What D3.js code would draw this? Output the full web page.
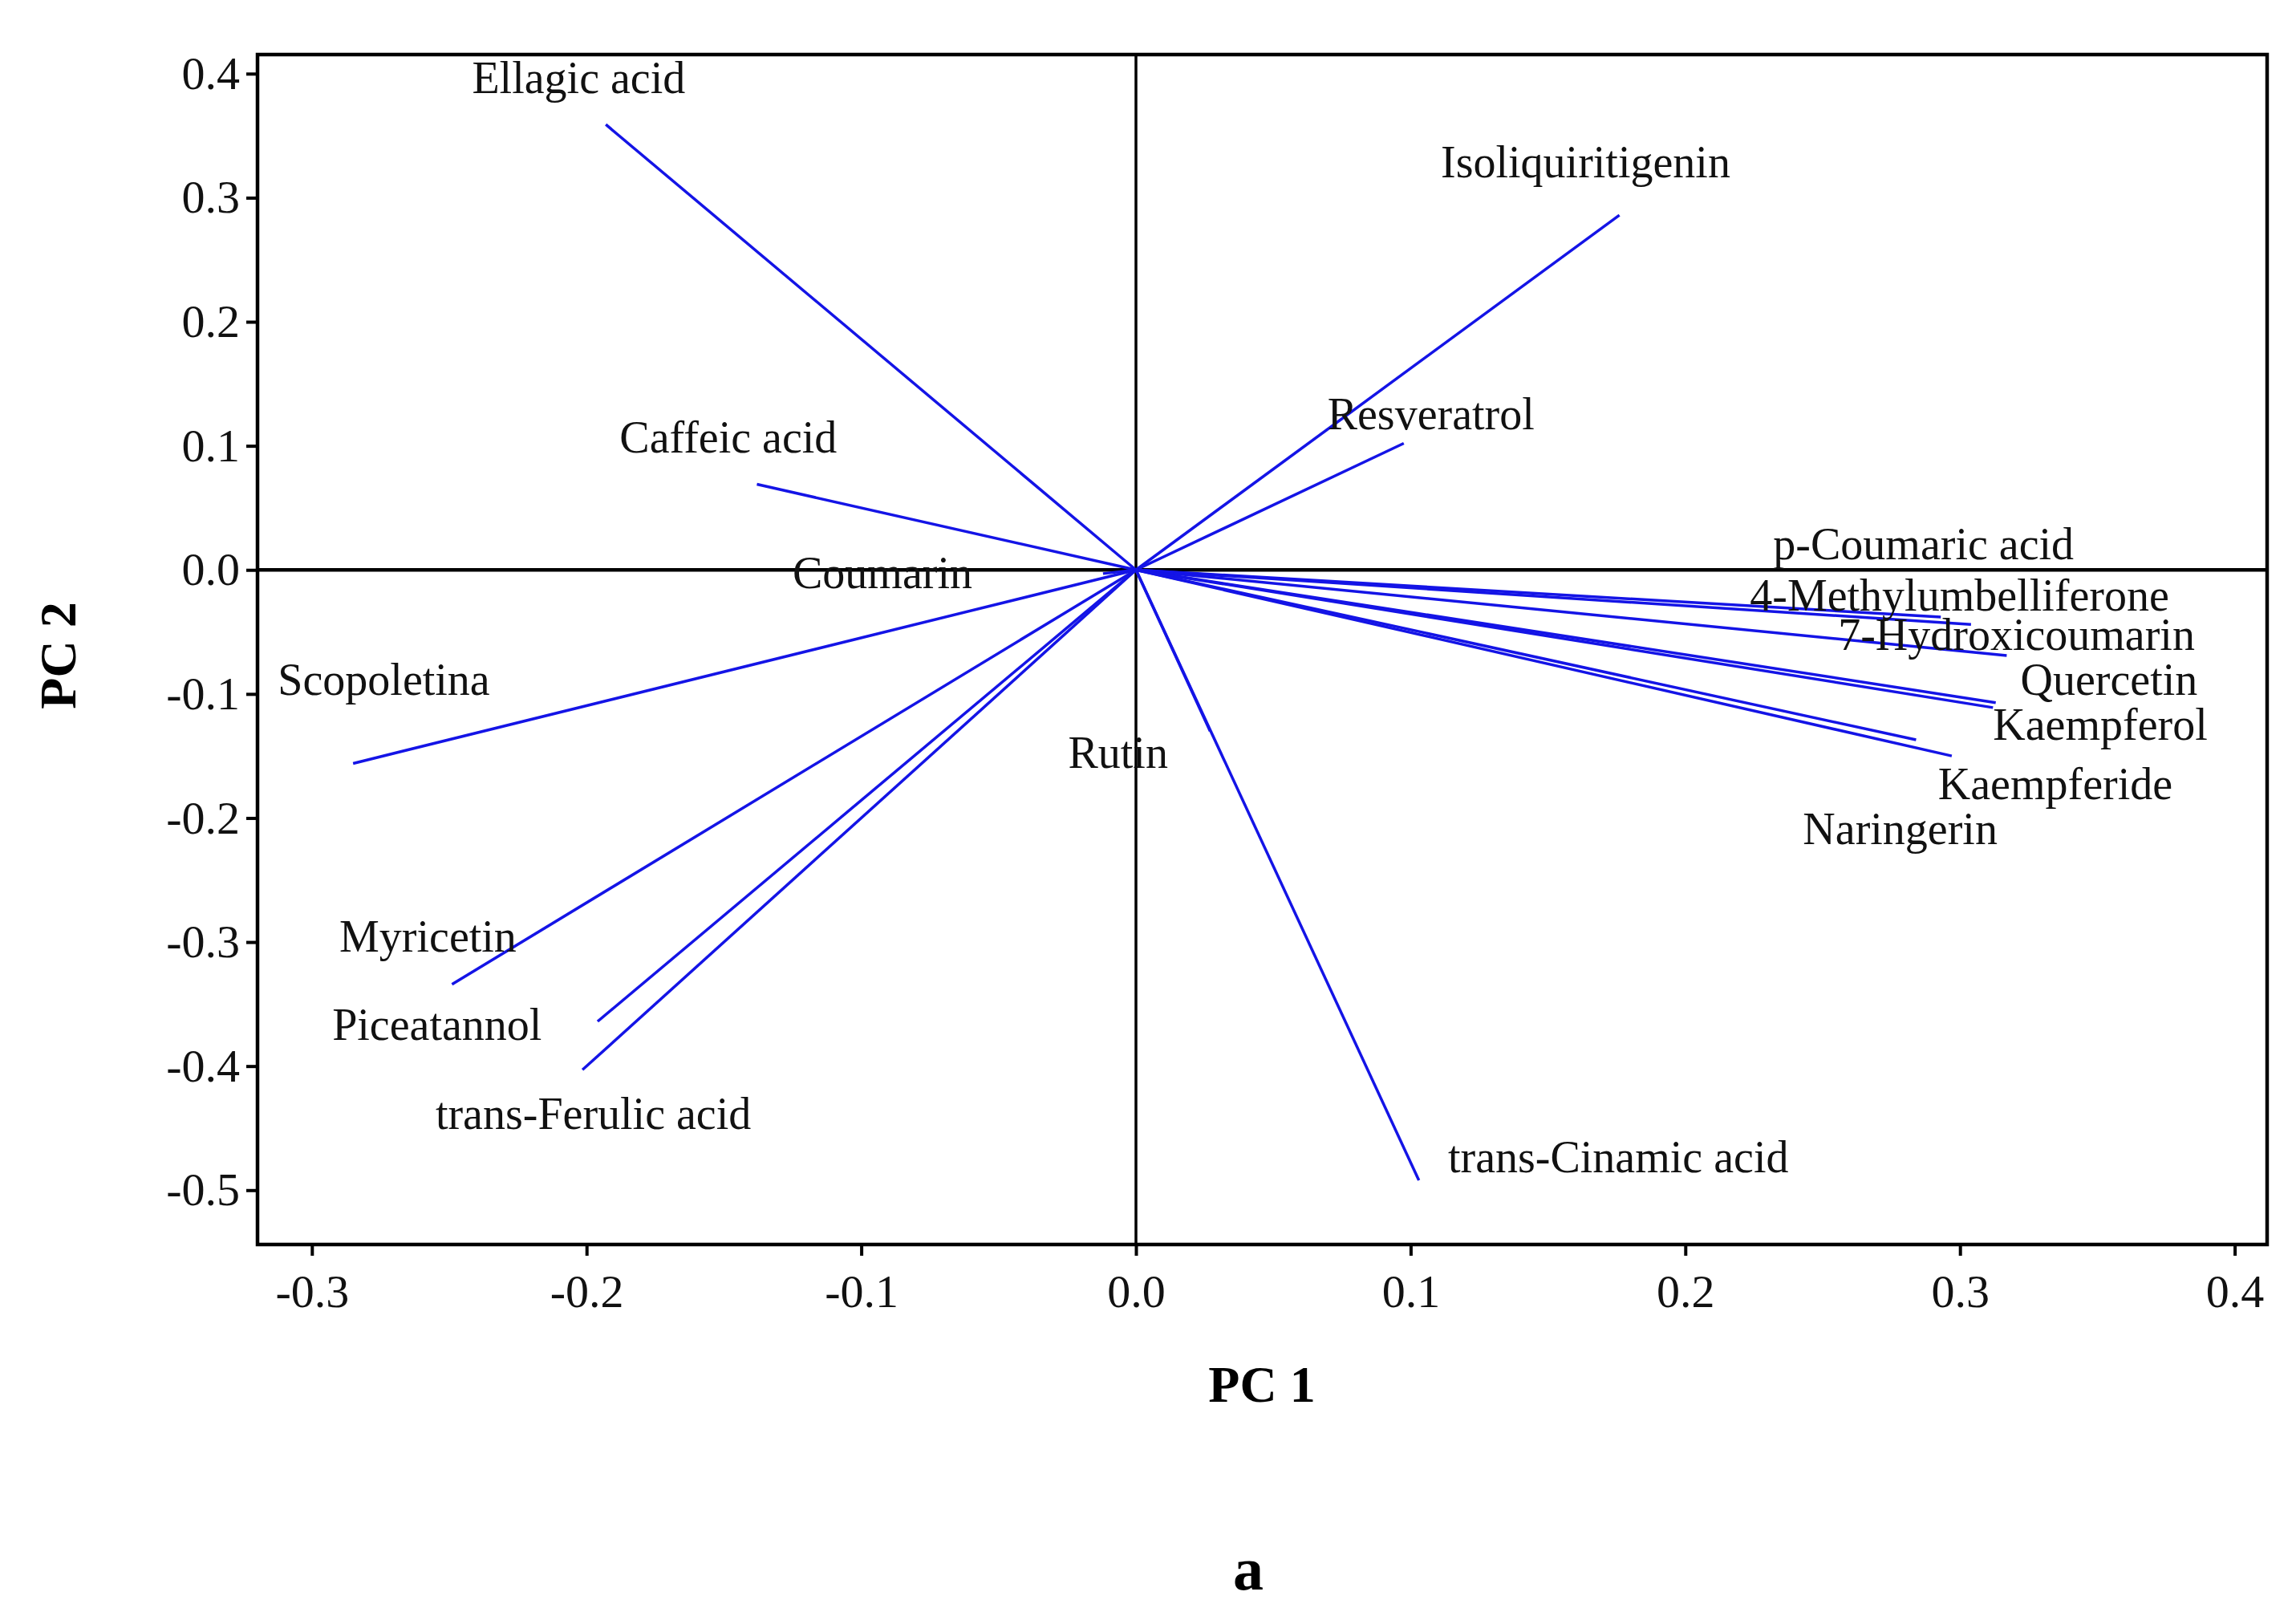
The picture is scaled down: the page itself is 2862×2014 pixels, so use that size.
<!DOCTYPE html>
<html>
<head>
<meta charset="utf-8">
<script src="https://cdn.jsdelivr.net/npm/d3@7"></script>
<style>
  body { margin: 0; background: #fff; }
  text { font-family: "Liberation Serif", "Times New Roman", serif; }
</style>
</head>
<body>
<svg id="chart" width="2862" height="2014"></svg>
<script>
// loading vectors (PC1, PC2)
const names = ["Ellagic acid", "Isoliquiritigenin", "Resveratrol", "Caffeic acid", "Coumarin",
  "Scopoletina", "Myricetin", "Piceatannol", "trans-Ferulic acid", "Rutin", "trans-Cinamic acid",
  "p-Coumaric acid", "4-Methylumbelliferone", "7-Hydroxicoumarin", "Quercetin", "Kaempferol",
  "Kaempferide", "Naringerin"];
const pc1 = [-0.193, 0.176, 0.0975, -0.138, -0.012, -0.285, -0.249, -0.196, -0.2015, 0.027, 0.103,
  0.293, 0.304, 0.317, 0.313, 0.312, 0.297, 0.284];
const pc2 = [0.359, 0.286, 0.102, 0.069, -0.003, -0.156, -0.334, -0.364, -0.403, -0.13, -0.492,
  -0.038, -0.044, -0.069, -0.107, -0.111, -0.150, -0.137];
// where each label sits, in data units
const labelX = [-0.2417, 0.111, 0.0697, -0.188, -0.125, -0.3124, -0.29, -0.2926, -0.255, -0.0247, 0.1136,
  0.232, 0.2235, 0.2556, 0.322, 0.312, 0.292, 0.2428];
const labelY = [0.397, 0.329, 0.126, 0.107, -0.002, -0.088, -0.295, -0.366, -0.438, -0.147, -0.473,
  0.021, -0.020, -0.052, -0.088, -0.124, -0.172, -0.2085];
const xTicks = [-0.3, -0.2, -0.1, 0.0, 0.1, 0.2, 0.3, 0.4];
const yTicks = [0.4, 0.3, 0.2, 0.1, 0.0, -0.1, -0.2, -0.3, -0.4, -0.5];

const svg = d3.select("#chart");
const plotL = 321, plotR = 2826, plotT = 68, plotB = 1551;

const x = d3.scaleLinear().domain([-0.3198, 0.4118]).range([plotL, plotR]);
const y = d3.scaleLinear().domain([0.4154, -0.5438]).range([plotT, plotB]);

// axes
const xAxis = svg.append("g").attr("transform", `translate(0,${plotB})`)
  .call(d3.axisBottom(x).tickValues(xTicks).tickFormat(d3.format(".1f")).tickSize(14).tickSizeOuter(0));
const yAxis = svg.append("g").attr("transform", `translate(${plotL},0)`)
  .call(d3.axisLeft(y).tickValues(yTicks).tickFormat(d3.format(".1f")).tickSize(14).tickSizeOuter(0));
[xAxis, yAxis].forEach(a => {
  a.select(".domain").remove();
  a.selectAll("line").attr("stroke", "#000").attr("stroke-width", 4);
  a.selectAll("text").attr("font-size", 58).attr("fill", "#111")
    .attr("font-family", "Liberation Serif");
});
xAxis.selectAll("text").attr("dy", "1.05em").text(d => d.toFixed(1));
yAxis.selectAll("text").attr("x", -22).text(d => d.toFixed(1));

// frame
svg.append("rect").attr("x", plotL).attr("y", plotT).attr("width", plotR - plotL).attr("height", plotB - plotT)
  .attr("fill", "none").attr("stroke", "#000").attr("stroke-width", 4.5);

// zero reference lines
svg.append("line").attr("x1", x(0)).attr("x2", x(0)).attr("y1", plotT).attr("y2", plotB)
  .attr("stroke", "#000").attr("stroke-width", 3.5);
svg.append("line").attr("x1", plotL).attr("x2", plotR).attr("y1", y(0)).attr("y2", y(0))
  .attr("stroke", "#000").attr("stroke-width", 4.5);

// vectors
svg.append("g").selectAll("line").data(names).join("line")
  .attr("x1", x(0)).attr("y1", y(0))
  .attr("x2", (d, i) => x(pc1[i])).attr("y2", (d, i) => y(pc2[i]))
  .attr("stroke", "#1414e6").attr("stroke-width", 3.5);

// labels
svg.append("g").selectAll("text").data(names).join("text")
  .attr("x", (d, i) => x(labelX[i])).attr("y", (d, i) => y(labelY[i]))
  .attr("dy", "0.35em").attr("font-size", 56).attr("fill", "#111")
  .text(d => d);

// axis titles
svg.append("text").attr("x", 1573).attr("y", 1725).attr("dy", "0.35em").attr("text-anchor", "middle")
  .attr("font-size", 64).attr("font-weight", "bold").text("PC 1");
svg.append("text").attr("transform", "translate(72,817) rotate(-90)").attr("dy", "0.35em")
  .attr("text-anchor", "middle").attr("font-size", 64).attr("font-weight", "bold").text("PC 2");

svg.append("text").attr("x", 1556).attr("y", 1954).attr("dy", "0.35em").attr("text-anchor", "middle")
  .attr("font-size", 76).attr("font-weight", "bold").attr("font-family", "Liberation Sans, Arial, sans-serif")
  .text("a");
</script>
</body>
</html>
